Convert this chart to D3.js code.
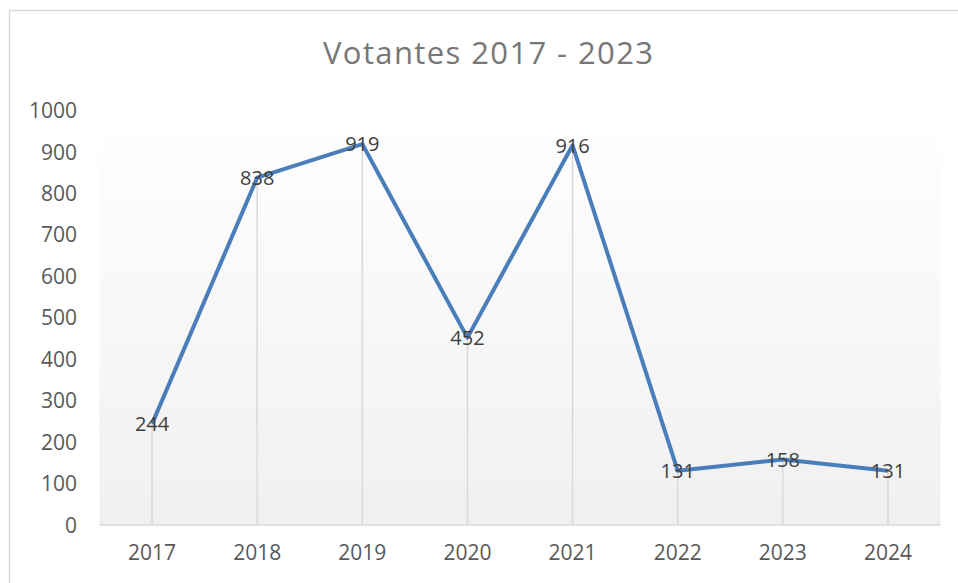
<!DOCTYPE html>
<html lang="es">
  <head>
    <meta charset="utf-8" />
    <title>Votantes 2017 - 2023</title>
    <script src="https://d3js.org/d3.v7.min.js"></script>
    <style>
      body { margin: 0; background: #fff; }
      text { font-family: "Open Sans", sans-serif; }
    </style>
  </head>
  <body>
    <script>
      // data
      var years = ["2017", "2018", "2019", "2020", "2021", "2022", "2023", "2024"];
      var votantes = [244, 838, 919, 452, 916, 131, 158, 131];
      var yTicks = [0, 100, 200, 300, 400, 500, 600, 700, 800, 900, 1000];

      var width = 958, height = 583;
      var plot = { left: 99.5, right: 940.5, top: 110.5, bottom: 525 };

      var svg = d3.select("body").append("svg")
        .attr("width", width)
        .attr("height", height);

      // outer chart border
      svg.append("rect")
        .attr("x", 9.5).attr("y", 10.5)
        .attr("width", 970).attr("height", 600)
        .attr("fill", "#fff")
        .attr("stroke", "#d9d9d9")
        .attr("stroke-width", 1.5);

      var grad = svg.append("defs").append("linearGradient")
        .attr("id", "bg").attr("x1", 0).attr("y1", 0).attr("x2", 0).attr("y2", 1);
      grad.append("stop").attr("offset", "0%").attr("stop-color", "#ffffff");
      grad.append("stop").attr("offset", "100%").attr("stop-color", "#f0f0f0");

      var x = d3.scaleBand().domain(years).range([plot.left, plot.right]);
      var y = d3.scaleLinear().domain([0, 1000]).range([plot.bottom, plot.top]);
      var cx = function (d) { return x(d) + x.bandwidth() / 2; };

      svg.append("rect")
        .attr("x", plot.left).attr("y", plot.top)
        .attr("width", plot.right - plot.left)
        .attr("height", plot.bottom - plot.top)
        .attr("fill", "url(#bg)");

      // title
      svg.append("text")
        .attr("x", 488).attr("y", 64)
        .attr("text-anchor", "middle")
        .attr("font-size", 31)
        .attr("fill", "#777777")
        .attr("textLength", 330)
        .attr("lengthAdjust", "spacing")
        .text("Votantes 2017 - 2023");

      // y axis labels
      svg.append("g").selectAll("text")
        .data(yTicks)
        .enter().append("text")
        .attr("x", 77)
        .attr("y", function (d) { return y(d); })
        .attr("dy", "0.36em")
        .attr("text-anchor", "end")
        .attr("font-size", 21)
        .attr("fill", "#595959")
        .text(function (d) { return d; });

      // x axis labels
      svg.append("g").selectAll("text")
        .data(years)
        .enter().append("text")
        .attr("x", cx)
        .attr("y", 552)
        .attr("dy", "0.36em")
        .attr("text-anchor", "middle")
        .attr("font-size", 21)
        .attr("fill", "#595959")
        .text(function (d) { return d; });

      // drop lines
      svg.append("g").selectAll("line")
        .data(years)
        .enter().append("line")
        .attr("x1", cx).attr("x2", cx)
        .attr("y1", function (d, i) { return y(votantes[i]); })
        .attr("y2", plot.bottom)
        .attr("stroke", "#d9d9d9")
        .attr("stroke-width", 1.5);

      // x axis line
      svg.append("line")
        .attr("x1", plot.left).attr("x2", plot.right)
        .attr("y1", plot.bottom).attr("y2", plot.bottom)
        .attr("stroke", "#d9d9d9")
        .attr("stroke-width", 1.5);

      var line = d3.line()
        .x(function (d, i) { return cx(years[i]); })
        .y(function (d) { return y(d); });

      svg.append("path")
        .datum(votantes)
        .attr("d", line)
        .attr("fill", "none")
        .attr("stroke", "#4a7ebb")
        .attr("stroke-width", 4)
        .attr("stroke-linejoin", "round");

      // data labels, centred on the points
      svg.append("g").selectAll("text")
        .data(votantes)
        .enter().append("text")
        .attr("x", function (d, i) { return cx(years[i]); })
        .attr("y", function (d) { return y(d); })
        .attr("dy", "0.36em")
        .attr("text-anchor", "middle")
        .attr("font-size", 20)
        .attr("fill", "#404040")
        .text(function (d) { return d; });
    </script>
  </body>
</html>
